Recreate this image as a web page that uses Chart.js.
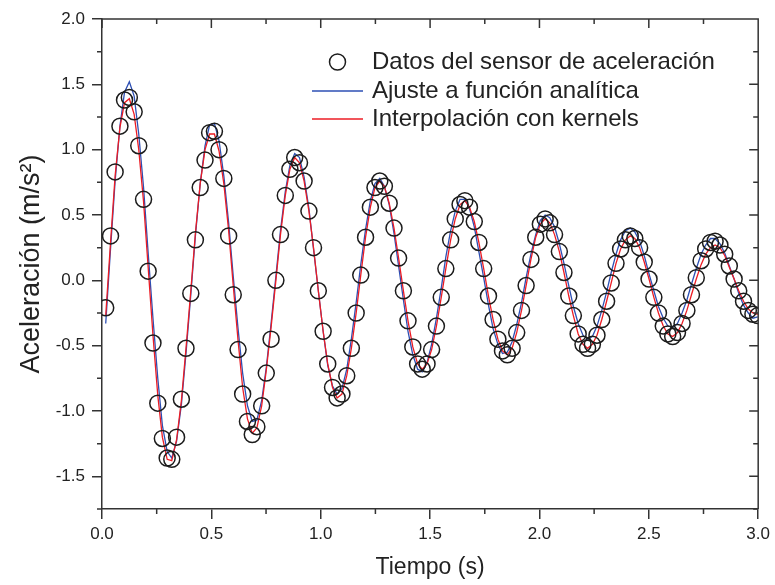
<!DOCTYPE html>
<html lang="es">
<head>
  <meta charset="UTF-8" />
  <title>Aceleración vs tiempo</title>
  <script src="https://cdn.jsdelivr.net/npm/chart.js@4.4.1/dist/chart.umd.min.js"></script>
  <style>
    html, body { margin: 0; padding: 0; background: #fff; }
    canvas { display: block; }
  </style>
</head>
<body>
  <canvas id="accChart" width="775" height="585"></canvas>
  <script>
    // tiempo de cada muestra (s)
    const timeS = [
      0.017, 0.039, 0.060, 0.082, 0.103, 0.125, 0.147, 0.168, 0.190, 0.211,
      0.233, 0.255, 0.276, 0.298, 0.319, 0.341, 0.363, 0.384, 0.406, 0.427,
      0.449, 0.471, 0.492, 0.514, 0.535, 0.557, 0.579, 0.600, 0.622, 0.643,
      0.665, 0.687, 0.708, 0.730, 0.751, 0.773, 0.795, 0.816, 0.838, 0.859,
      0.881, 0.903, 0.924, 0.946, 0.967, 0.989, 1.011, 1.032, 1.054, 1.075,
      1.097, 1.119, 1.140, 1.162, 1.183, 1.205, 1.227, 1.248, 1.270, 1.291,
      1.313, 1.335, 1.356, 1.378, 1.399, 1.421, 1.443, 1.464, 1.486, 1.507,
      1.529, 1.551, 1.572, 1.594, 1.615, 1.637, 1.659, 1.680, 1.702, 1.723,
      1.745, 1.767, 1.788, 1.810, 1.831, 1.853, 1.875, 1.896, 1.918, 1.939,
      1.961, 1.983, 2.004, 2.026, 2.047, 2.069, 2.091, 2.112, 2.134, 2.155,
      2.177, 2.199, 2.220, 2.242, 2.263, 2.285, 2.307, 2.328, 2.350, 2.371,
      2.393, 2.415, 2.436, 2.458, 2.479, 2.501, 2.523, 2.544, 2.566, 2.587,
      2.609, 2.631, 2.652, 2.674, 2.695, 2.717, 2.739, 2.760, 2.782, 2.803,
      2.825, 2.847, 2.868, 2.890, 2.911, 2.933, 2.955, 2.976, 2.998
    ];

    // datos del sensor (m/s2)
    const accData = [
      -0.21, 0.34, 0.83, 1.18, 1.38, 1.40, 1.29, 1.03, 0.62, 0.07,
      -0.48, -0.94, -1.21, -1.36, -1.37, -1.20, -0.91, -0.52, -0.10, 0.31,
      0.71, 0.92, 1.13, 1.14, 1.00, 0.78, 0.34, -0.11, -0.53, -0.87,
      -1.08, -1.18, -1.12, -0.96, -0.71, -0.45, 0.00, 0.35, 0.65, 0.85,
      0.94, 0.90, 0.76, 0.53, 0.25, -0.08, -0.39, -0.64, -0.82, -0.90,
      -0.87, -0.73, -0.52, -0.25, 0.04, 0.33, 0.56, 0.71, 0.76, 0.72,
      0.59, 0.40, 0.17, -0.08, -0.31, -0.51, -0.64, -0.68, -0.64, -0.53,
      -0.35, -0.13, 0.09, 0.31, 0.47, 0.58, 0.61, 0.56, 0.45, 0.29,
      0.09, -0.12, -0.30, -0.45, -0.54, -0.57, -0.52, -0.40, -0.23, -0.04,
      0.16, 0.33, 0.43, 0.47, 0.44, 0.35, 0.22, 0.06, -0.12, -0.27,
      -0.41, -0.49, -0.52, -0.49, -0.42, -0.30, -0.16, -0.02, 0.13, 0.24,
      0.31, 0.34, 0.32, 0.25, 0.14, 0.01, -0.13, -0.25, -0.35, -0.41,
      -0.43, -0.40, -0.33, -0.23, -0.11, 0.02, 0.15, 0.24, 0.29, 0.30,
      0.27, 0.20, 0.11, 0.01, -0.08, -0.16, -0.23, -0.26, -0.27
    ];

    // ajuste a funcion analitica
    const fitAnalytic = [
      -0.33, 0.24, 0.76, 1.18, 1.44, 1.52, 1.41, 1.12, 0.71, 0.21,
      -0.29, -0.75, -1.11, -1.31, -1.36, -1.23, -0.95, -0.56, -0.11, 0.34,
      0.74, 1.03, 1.19, 1.20, 1.07, 0.80, 0.44, 0.03, -0.37, -0.71,
      -0.96, -1.08, -1.07, -0.92, -0.67, -0.33, 0.03, 0.38, 0.68, 0.88,
      0.97, 0.94, 0.79, 0.55, 0.24, -0.08, -0.39, -0.65, -0.81, -0.87,
      -0.83, -0.68, -0.45, -0.17, 0.12, 0.39, 0.61, 0.74, 0.78, 0.72,
      0.58, 0.36, 0.11, -0.15, -0.39, -0.57, -0.68, -0.70, -0.63, -0.49,
      -0.29, -0.06, 0.18, 0.38, 0.53, 0.62, 0.62, 0.55, 0.41, 0.22,
      0.02, -0.19, -0.37, -0.49, -0.56, -0.55, -0.47, -0.34, -0.17, 0.02,
      0.20, 0.35, 0.46, 0.50, 0.48, 0.41, 0.28, 0.13, -0.04, -0.20,
      -0.33, -0.42, -0.45, -0.43, -0.35, -0.23, -0.09, 0.06, 0.20, 0.31,
      0.38, 0.40, 0.37, 0.30, 0.19, 0.05, -0.08, -0.20, -0.29, -0.35,
      -0.36, -0.33, -0.25, -0.15, -0.03, 0.09, 0.20, 0.27, 0.32, 0.32,
      0.28, 0.21, 0.11, 0.01, -0.10, -0.19, -0.25, -0.29, -0.28
    ];

    // interpolacion con kernels
    const kernelInterp = [
      -0.27, 0.29, 0.80, 1.17, 1.36, 1.39, 1.27, 1.00, 0.60, 0.10,
      -0.42, -0.88, -1.20, -1.37, -1.38, -1.22, -0.92, -0.52, -0.08, 0.36,
      0.74, 1.00, 1.12, 1.12, 0.99, 0.74, 0.38, -0.04, -0.46, -0.82,
      -1.06, -1.17, -1.13, -0.96, -0.69, -0.36, 0.00, 0.35, 0.65, 0.85,
      0.94, 0.90, 0.76, 0.53, 0.25, -0.08, -0.39, -0.64, -0.82, -0.90,
      -0.87, -0.73, -0.52, -0.25, 0.04, 0.33, 0.56, 0.71, 0.76, 0.72,
      0.59, 0.40, 0.17, -0.08, -0.31, -0.51, -0.64, -0.68, -0.64, -0.53,
      -0.35, -0.13, 0.09, 0.31, 0.47, 0.58, 0.61, 0.56, 0.45, 0.29,
      0.09, -0.12, -0.30, -0.45, -0.54, -0.57, -0.52, -0.40, -0.23, -0.04,
      0.16, 0.33, 0.43, 0.47, 0.44, 0.35, 0.22, 0.06, -0.12, -0.27,
      -0.41, -0.49, -0.52, -0.49, -0.42, -0.30, -0.16, -0.02, 0.13, 0.24,
      0.31, 0.34, 0.32, 0.25, 0.14, 0.01, -0.13, -0.25, -0.35, -0.41,
      -0.43, -0.40, -0.33, -0.23, -0.11, 0.01, 0.12, 0.20, 0.25, 0.27,
      0.25, 0.19, 0.10, 0.01, -0.08, -0.16, -0.22, -0.25, -0.26
    ];

    const seriesNames = [
      "Datos del sensor de aceleración",
      "Ajuste a función analítica",
      "Interpolación con kernels"
    ];

    const xTicks = [0, 0.5, 1, 1.5, 2, 2.5, 3];
    const xMinor = [0.25, 0.75, 1.25, 1.75, 2.25, 2.75];
    const yTicks = [-1.5, -1, -0.5, 0, 0.5, 1, 1.5, 2];
    const yMinor = [-1.75, -1.25, -0.75, -0.25, 0.25, 0.75, 1.25, 1.75];

    const axisColor = "#333333";
    const textColor = "#222222";
    const fontFam = "'Liberation Sans', Arial, Helvetica, sans-serif";

    Chart.defaults.font.family = fontFam;
    Chart.defaults.color = textColor;

    function toPoints(values) {
      return timeS.map((t, i) => ({ x: t, y: values[i] }));
    }

    // caja completa: borde superior/derecho y marcas menores
    const framePlugin = {
      id: "frame",
      afterDraw(chart) {
        const { ctx, chartArea: a } = chart;
        const x = chart.scales.x, y = chart.scales.y;
        ctx.save();
        ctx.strokeStyle = axisColor;
        ctx.lineWidth = 1.5;
        ctx.beginPath();
        ctx.moveTo(a.left, a.top);
        ctx.lineTo(a.right, a.top);
        ctx.lineTo(a.right, a.bottom);
        xTicks.forEach(v => {
          const px = x.getPixelForValue(v);
          ctx.moveTo(px, a.top);
          ctx.lineTo(px, a.top + 9);
        });
        xMinor.forEach(v => {
          const px = x.getPixelForValue(v);
          ctx.moveTo(px, a.top);
          ctx.lineTo(px, a.top + 5);
          ctx.moveTo(px, a.bottom);
          ctx.lineTo(px, a.bottom + 5);
        });
        yTicks.forEach(v => {
          const py = y.getPixelForValue(v);
          ctx.moveTo(a.right, py);
          ctx.lineTo(a.right - 9, py);
        });
        yMinor.forEach(v => {
          const py = y.getPixelForValue(v);
          ctx.moveTo(a.right, py);
          ctx.lineTo(a.right - 5, py);
          ctx.moveTo(a.left, py);
          ctx.lineTo(a.left - 5, py);
        });
        ctx.stroke();
        ctx.restore();
      }
    };

    // leyenda dentro del area del grafico
    const legendPlugin = {
      id: "insideLegend",
      afterDraw(chart) {
        const { ctx, chartArea: a } = chart;
        const ds = chart.data.datasets;
        const symLeft = a.left + 210, symRight = a.left + 261;
        const textX = a.left + 270;
        const rows = [a.top + 43, a.top + 72, a.top + 100];
        ctx.save();
        ds.forEach((d, i) => {
          const yy = rows[i];
          if (i === 0) {
            ctx.beginPath();
            ctx.arc((symLeft + symRight) / 2, yy, d.pointRadius, 0, Math.PI * 2);
            ctx.strokeStyle = d.borderColor;
            ctx.lineWidth = d.pointBorderWidth;
            ctx.stroke();
          } else {
            ctx.beginPath();
            ctx.moveTo(symLeft, yy);
            ctx.lineTo(symRight, yy);
            ctx.strokeStyle = d.borderColor;
            ctx.lineWidth = d.borderWidth;
            ctx.stroke();
          }
          ctx.fillStyle = textColor;
          ctx.font = "24px " + fontFam;
          ctx.textBaseline = "middle";
          ctx.textAlign = "left";
          ctx.fillText(d.label, textX, yy);
        });
        ctx.restore();
      }
    };

    const accChart = new Chart(document.getElementById("accChart"), {
      type: "scatter",
      data: {
        datasets: [
          {
            label: seriesNames[0],
            data: toPoints(accData),
            showLine: false,
            pointStyle: "circle",
            pointRadius: 8,
            pointBorderWidth: 1.5,
            borderColor: "#1c1c1c",
            backgroundColor: "rgba(0,0,0,0)",
            order: 0
          },
          {
            label: seriesNames[1],
            type: "line",
            data: toPoints(fitAnalytic),
            borderColor: "#2d4fb4",
            borderWidth: 1.3,
            pointRadius: 0,
            fill: false,
            tension: 0,
            order: 2
          },
          {
            label: seriesNames[2],
            type: "line",
            data: toPoints(kernelInterp),
            borderColor: "#ec1c24",
            borderWidth: 1.3,
            pointRadius: 0,
            fill: false,
            tension: 0,
            order: 1
          }
        ]
      },
      options: {
        responsive: false,
        animation: false,
        devicePixelRatio: 1,
        layout: { padding: { top: 19, right: 16, left: 0, bottom: 0 } },
        plugins: {
          legend: { display: false },
          tooltip: { enabled: false }
        },
        scales: {
          x: {
            type: "linear",
            min: 0,
            max: 3,
            afterBuildTicks: s => { s.ticks = xTicks.map(v => ({ value: v })); },
            afterFit: s => { s.height = 76; },
            ticks: {
              callback: v => v.toFixed(1),
              font: { size: 17 },
              color: textColor,
              padding: 5,
              maxRotation: 0,
              autoSkip: false
            },
            grid: { drawOnChartArea: false, tickLength: 10, color: axisColor, lineWidth: 1.5 },
            border: { color: axisColor, width: 1.5 },
            title: {
              display: true,
              text: "Tiempo (s)",
              font: { size: 23 },
              color: textColor,
              padding: { top: 0, bottom: 4 }
            }
          },
          y: {
            type: "linear",
            min: -1.75,
            max: 2,
            afterBuildTicks: s => { s.ticks = yTicks.map(v => ({ value: v })); },
            afterFit: s => { s.width = 102; },
            ticks: {
              callback: v => v.toFixed(1),
              font: { size: 17 },
              color: textColor,
              padding: 7,
              autoSkip: false
            },
            grid: { drawOnChartArea: false, tickLength: 10, color: axisColor, lineWidth: 1.5 },
            border: { color: axisColor, width: 1.5 },
            title: {
              display: true,
              text: "Aceleración (m/s²)",
              font: { size: 27 },
              color: textColor,
              padding: { top: 15, bottom: 0 }
            }
          }
        }
      },
      plugins: [framePlugin, legendPlugin]
    });
  </script>
</body>
</html>
